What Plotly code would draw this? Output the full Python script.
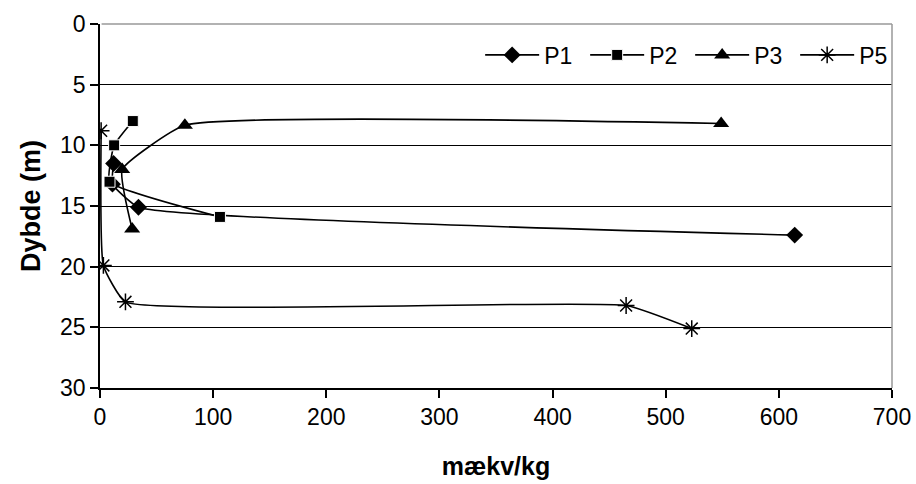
import plotly.graph_objects as go

# Data (x: mækv/kg, y: depth in m)
p1_x = [12, 11, 34, 614]
p1_y = [11.5, 13.2, 15.1, 17.4]

p2_x = [29, 12.5, 8.4, 106]
p2_y = [8.0, 10.0, 13.0, 15.9]

p3_x = [549, 75, 19.6, 28.4]
p3_y = [8.2, 8.35, 12.0, 16.9]

p5_x = [1, 3, 22.5, 465, 523]
p5_y = [8.8, 19.9, 22.9, 23.2, 25.1]

series_names = ["P1", "P2", "P3", "P5"]

x_ticks = [0, 100, 200, 300, 400, 500, 600, 700]
y_ticks = [0, 5, 10, 15, 20, 25, 30]

FONT = "Liberation Sans, Arial, sans-serif"

fig = go.Figure()

styles = [
    dict(symbol="diamond", size=13, color="black", line=dict(width=0)),
    dict(symbol="square", size=11, color="black", line=dict(width=1, color="white")),
    dict(symbol="triangle-up", size=14, color="black", line=dict(width=0)),
    dict(symbol="asterisk-open", size=14, color="black", line=dict(width=1.5, color="black")),
]

for name, xs, ys, mk in zip(series_names, [p1_x, p2_x, p3_x, p5_x], [p1_y, p2_y, p3_y, p5_y], styles):
    fig.add_trace(go.Scatter(
        x=xs, y=ys, name=name, mode="lines+markers",
        line=dict(color="black", width=1.6, shape="spline", smoothing=0.4),
        marker=mk,
    ))

fig.update_layout(
    width=916, height=484,
    margin=dict(l=100, r=24, t=24, b=96, autoexpand=False),
    paper_bgcolor="white", plot_bgcolor="white",
    font=dict(family=FONT, size=23, color="black"),
    showlegend=True,
    legend=dict(
        orientation="h", x=0.48, y=0.915, xanchor="left", yanchor="middle",
        font=dict(family=FONT, size=23, color="black"),
        bgcolor="rgba(0,0,0,0)", borderwidth=0,
        entrywidth=36, entrywidthmode="pixels",
        itemwidth=54, tracegroupgap=0,
    ),
    xaxis=dict(
        range=[0, 700], tickvals=x_ticks, ticktext=[str(v) for v in x_ticks],
        showgrid=False, zeroline=False, automargin=False,
        showline=True, linecolor="black", linewidth=1.5,
        ticks="outside", ticklen=8, tickwidth=1.5, tickcolor="black",
        tickfont=dict(family=FONT, size=23),
        title=dict(text="<b>mækv/kg</b>", font=dict(family=FONT, size=25), standoff=28),
    ),
    yaxis=dict(
        range=[30, 0], tickvals=y_ticks, ticktext=[str(v) for v in y_ticks],
        showgrid=True, gridcolor="black", gridwidth=1.2,
        zeroline=False, automargin=False,
        showline=True, linecolor="black", linewidth=1.5,
        ticks="outside", ticklen=8, tickwidth=1.5, tickcolor="black",
        tickfont=dict(family=FONT, size=23),
        title=dict(text="<b>Dybde (m)</b>", font=dict(family=FONT, size=27), standoff=12),
    ),
    shapes=[
        dict(type="line", xref="paper", yref="paper", x0=0.002, x1=1, y0=1, y1=1,
             line=dict(color="#999999", width=1.5), layer="above"),
        dict(type="line", xref="paper", yref="paper", x0=1, x1=1, y0=0, y1=1,
             line=dict(color="#999999", width=1.5), layer="above"),
    ],
)

fig.write_html("out.html")
